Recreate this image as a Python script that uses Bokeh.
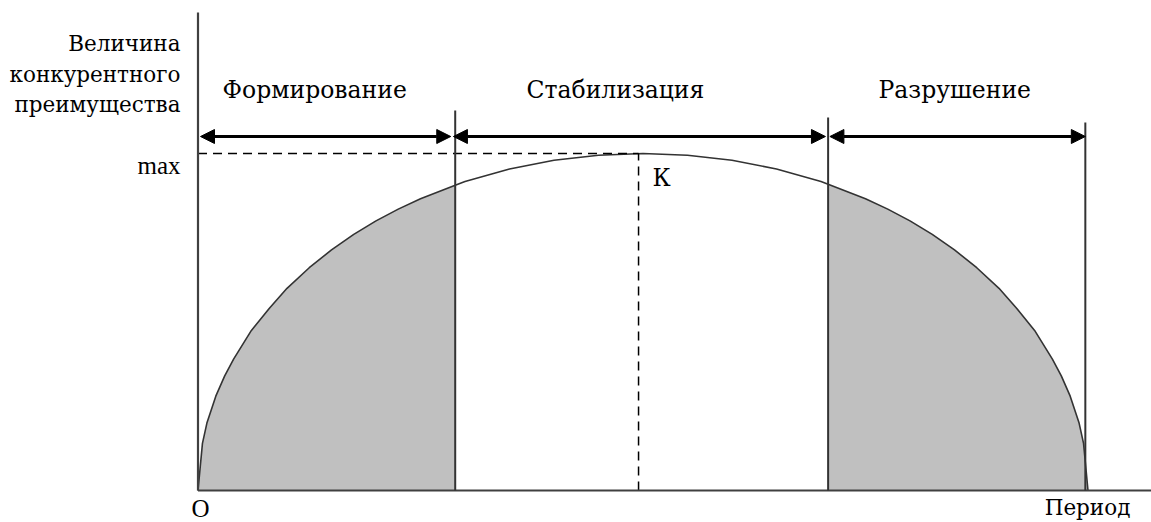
from bokeh.plotting import figure
from bokeh.models import Range1d, Arrow, NormalHead
from bokeh.core.properties import value
from bokeh.embed import file_html
from bokeh.resources import INLINE

# ---- data (period 0..100, advantage 0..100 = max) ----
curve_t = [0, 0.5, 1, 2, 3, 4, 6, 8, 10, 12.5, 15, 17.5, 20, 22.5, 25, 28.9, 30, 35, 40, 45, 50,
           55, 60, 65, 70, 70.8, 75, 77.5, 80, 82.5, 85, 87.5, 90, 92, 94, 96, 97, 98, 99, 99.5, 100]
curve_v = [0, 14, 20, 28, 34, 39, 47.5, 54, 60, 66.1, 71.4, 76.0, 80, 83.5, 86.6, 90.6, 91.7, 95.4, 98, 99.5, 100,
           99.5, 98, 95.4, 91.7, 90.9, 86.6, 83.5, 80, 76.0, 71.4, 66.1, 60, 54, 47.5, 39, 34, 28, 20, 14, 0]
phase_names = ["Формирование", "Стабилизация", "Разрушение"]
phase_bounds = [0, 28.9, 70.8, 99.7]
peak_t = 49.5
max_v = 100
axis_labels = ["Величина", "конкурентного", "преимущества"]

# ---- layout helpers (picture pixels -> data units) ----
W, H = 1151, 522
PX0, PY0, SX, SY = 197.5, 490.0, 8.9, 3.37
TXT_SHIFT = 9  # compensation for the renderer's baseline placement
def dx(px): return (px - PX0) / SX
def dy(py): return (PY0 - py) / SY
def ty(baseline_px): return dy(baseline_px - TXT_SHIFT)

p = figure(width=W, height=H, x_range=Range1d(dx(0), dx(W)), y_range=Range1d(dy(H), dy(0)),
           output_backend="svg", toolbar_location=None, x_axis_type=None, y_axis_type=None,
           min_border=0, outline_line_color=None, background_fill_color="white",
           border_fill_color="white")

CYR = value("DejaVu Serif")
LAT = value("Liberation Serif")
FS_C = "23.5px"
FS_AX = "21.5px"
FS_L = "25px"

# shaded regions
left_t = [t for t in curve_t if t <= phase_bounds[1]]
left_v = [v for t, v in zip(curve_t, curve_v) if t <= phase_bounds[1]]
right_t = [t for t in curve_t if t >= phase_bounds[2]]
right_v = [v for t, v in zip(curve_t, curve_v) if t >= phase_bounds[2]]
p.varea(x=left_t, y1=[0] * len(left_t), y2=left_v, fill_color="#c0c0c0")
p.varea(x=right_t, y1=[0] * len(right_t), y2=right_v, fill_color="#c0c0c0")

# curve
p.line(curve_t, curve_v, line_color="#333333", line_width=1.6)

# dashed max lines
p.line([0, peak_t], [max_v, max_v], line_color="black", line_width=1.5, line_dash="9 6")
p.line([peak_t, peak_t], [0, max_v], line_color="black", line_width=1.5, line_dash="9 6")

# axes
p.line([0, dx(1160)], [0, 0], line_color="#404040", line_width=2.2)
p.line([0, 0], [0, dy(12)], line_color="#404040", line_width=2.2)

# phase dividers
div_tops = [dy(110), dy(117), dy(122)]
p.segment(x0=phase_bounds[1:], y0=[0, 0, 0], x1=phase_bounds[1:], y1=div_tops,
          line_color="#333333", line_width=2)

# arrows
arrow_y = dy(136)
gaps = [(dx(200) - phase_bounds[0], 0.5), (-0.2, 0.3), (0.2, 0.0)]
for i in range(3):
    a = Arrow(start=NormalHead(size=14, fill_color="black", line_color="black"),
              end=NormalHead(size=14, fill_color="black", line_color="black"),
              x_start=phase_bounds[i] + gaps[i][0], y_start=arrow_y,
              x_end=phase_bounds[i + 1] - gaps[i][1], y_end=arrow_y,
              line_color="black", line_width=3)
    p.add_layout(a)

# texts
p.text(x=[dx(180)] * 3, y=[ty(52), ty(83), ty(113)], text=axis_labels,
       text_font=CYR, text_font_size=FS_AX, text_align="right",
       text_baseline="alphabetic", text_color="black")
p.text(x=[dx(180)], y=[ty(174)], text=["max"], text_font=LAT, text_font_size=FS_L,
       text_align="right", text_baseline="alphabetic", text_color="black")
p.text(x=[dx(222), dx(526), dx(878)], y=[ty(98)] * 3, text=phase_names,
       text_font=CYR, text_font_size=FS_C, text_align="left",
       text_baseline="alphabetic", text_color="black")
p.text(x=[dx(652)], y=[ty(186)], text=["К"], text_font=CYR, text_font_size=FS_C,
       text_align="left", text_baseline="alphabetic", text_color="black")
p.text(x=[dx(200)], y=[ty(517)], text=["O"], text_font=LAT, text_font_size=FS_L,
       text_align="center", text_baseline="alphabetic", text_color="black")
p.text(x=[dx(1087)], y=[ty(516)], text=["Период"], text_font=CYR, text_font_size=FS_AX,
       text_align="center", text_baseline="alphabetic", text_color="black")

open("out.html", "w").write(file_html(p, INLINE))
